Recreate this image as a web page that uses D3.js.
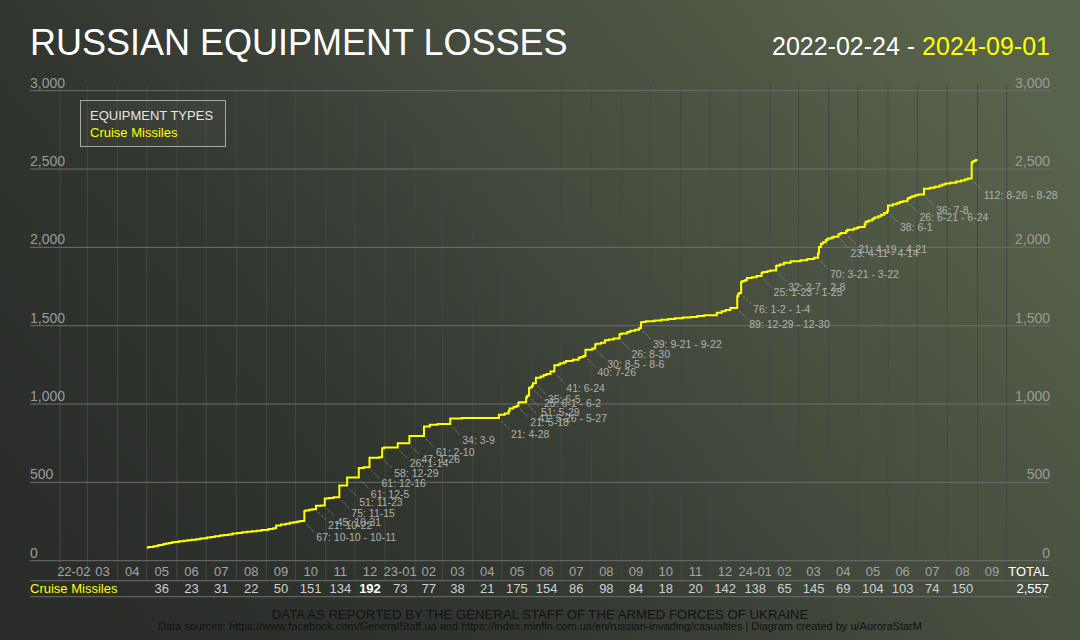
<!DOCTYPE html>
<html>
<head>
<meta charset="utf-8">
<title>Russian equipment losses — cruise missiles</title>
<script src="https://cdn.jsdelivr.net/npm/d3@7"></script>
<style>
  html, body { margin: 0; padding: 0; background: #2e322e; }
  svg { display: block; font-family: "Liberation Sans", Arial, sans-serif; }
</style>
</head>
<body>
<svg id="chart" width="1080" height="640"></svg>
<script>
/* Cumulative cruise missiles shot down, daily steps, with the big jumps labelled.
   Values; small steps between labelled jumps are estimates
   chosen so each month adds up to the monthly table. */
var START_DATE = "2022-05-01", START_VALUE = 84, END_DATE = "2024-09-01";

// daily increases [date, missiles]
var steps = [
  ["2022-05-03",4],["2022-05-08",5],["2022-05-12",4],["2022-05-14",3],["2022-05-18",6],["2022-05-21",4],["2022-05-24",3],["2022-05-27",4],["2022-05-30",3],
  ["2022-06-03",4],["2022-06-08",3],["2022-06-12",4],["2022-06-16",3],["2022-06-21",3],["2022-06-25",4],["2022-06-29",2],
  ["2022-07-02",5],["2022-07-06",4],["2022-07-10",4],["2022-07-15",5],["2022-07-19",3],["2022-07-24",4],["2022-07-28",6],
  ["2022-08-02",3],["2022-08-07",4],["2022-08-12",3],["2022-08-17",4],["2022-08-22",3],["2022-08-27",5],
  ["2022-09-03",6],["2022-09-08",5],["2022-09-11",18],["2022-09-16",6],["2022-09-21",5],["2022-09-25",6],["2022-09-29",4],
  ["2022-10-03",4],["2022-10-06",3],["2022-10-10",62],["2022-10-11",5],["2022-10-15",5],["2022-10-18",4],["2022-10-22",21],["2022-10-27",2],["2022-10-31",45],
  ["2022-11-04",4],["2022-11-09",4],["2022-11-15",75],["2022-11-23",51],
  ["2022-12-05",61],["2022-12-10",4],["2022-12-16",61],["2022-12-26",3],["2022-12-29",58],["2022-12-31",5],
  ["2023-01-14",26],["2023-01-26",47],
  ["2023-02-10",61],["2023-02-16",10],["2023-02-24",6],
  ["2023-03-09",34],["2023-03-21",4],
  ["2023-04-28",21],
  ["2023-05-04",8],["2023-05-08",16],["2023-05-09",15],["2023-05-13",10],["2023-05-16",6],["2023-05-18",21],["2023-05-19",4],["2023-05-26",30],["2023-05-27",11],["2023-05-29",51],["2023-05-31",3],
  ["2023-06-01",10],["2023-06-02",15],["2023-06-05",35],["2023-06-10",8],["2023-06-13",10],["2023-06-16",6],["2023-06-20",16],["2023-06-24",41],["2023-06-28",5],["2023-06-30",8],
  ["2023-07-04",6],["2023-07-06",8],["2023-07-13",8],["2023-07-19",12],["2023-07-21",5],["2023-07-24",7],["2023-07-26",40],
  ["2023-08-02",8],["2023-08-05",25],["2023-08-06",5],["2023-08-11",6],["2023-08-15",16],["2023-08-19",5],["2023-08-24",7],["2023-08-30",26],
  ["2023-09-01",6],["2023-09-07",8],["2023-09-10",9],["2023-09-15",6],["2023-09-19",10],["2023-09-21",36],["2023-09-22",3],["2023-09-26",6],
  ["2023-10-05",4],["2023-10-12",5],["2023-10-19",4],["2023-10-26",5],
  ["2023-11-03",5],["2023-11-11",4],["2023-11-18",6],["2023-11-25",5],
  ["2023-12-08",16],["2023-12-13",10],["2023-12-17",8],["2023-12-22",12],["2023-12-29",75],["2023-12-30",14],["2023-12-31",7],
  ["2024-01-02",70],["2024-01-03",4],["2024-01-04",2],["2024-01-06",5],["2024-01-08",14],["2024-01-13",6],["2024-01-18",7],["2024-01-23",20],["2024-01-24",3],["2024-01-25",2],["2024-01-29",5],
  ["2024-02-01",5],["2024-02-07",29],["2024-02-08",3],["2024-02-11",6],["2024-02-15",12],["2024-02-22",10],
  ["2024-03-03",6],["2024-03-10",7],["2024-03-17",8],["2024-03-21",30],["2024-03-22",40],["2024-03-24",20],["2024-03-26",10],["2024-03-29",14],["2024-03-31",10],
  ["2024-04-04",6],["2024-04-06",5],["2024-04-11",16],["2024-04-13",4],["2024-04-14",3],["2024-04-19",14],["2024-04-20",4],["2024-04-21",3],["2024-04-27",9],["2024-04-30",5],
  ["2024-05-02",4],["2024-05-08",18],["2024-05-09",16],["2024-05-12",8],["2024-05-16",10],["2024-05-18",8],["2024-05-22",8],["2024-05-25",10],["2024-05-28",12],["2024-05-31",10],
  ["2024-06-01",38],["2024-06-06",8],["2024-06-10",6],["2024-06-13",8],["2024-06-16",5],["2024-06-21",15],["2024-06-22",5],["2024-06-24",6],["2024-06-26",6],["2024-06-29",6],
  ["2024-07-02",5],["2024-07-08",36],["2024-07-14",6],["2024-07-19",7],["2024-07-24",8],["2024-07-27",6],["2024-07-30",6],
  ["2024-08-04",6],["2024-08-10",8],["2024-08-15",6],["2024-08-19",6],["2024-08-22",6],["2024-08-26",102],["2024-08-27",6],["2024-08-28",4],["2024-08-30",6]
];

// labelled jumps [first day, last day or null, missiles]
var jumps = [
  ["2022-10-10","2022-10-11",67],["2022-10-22",null,21],["2022-10-31",null,45],["2022-11-15",null,75],["2022-11-23",null,51],
  ["2022-12-05",null,61],["2022-12-16",null,61],["2022-12-29",null,58],["2023-01-14",null,26],["2023-01-26",null,47],
  ["2023-02-10",null,61],["2023-03-09",null,34],["2023-04-28",null,21],["2023-05-18",null,21],["2023-05-26","2023-05-27",41],
  ["2023-05-29",null,51],["2023-06-01","2023-06-02",25],["2023-06-05",null,35],["2023-06-24",null,41],["2023-07-26",null,40],
  ["2023-08-05","2023-08-06",30],["2023-08-30",null,26],["2023-09-21","2023-09-22",39],["2023-12-29","2023-12-30",89],
  ["2024-01-02","2024-01-04",76],["2024-01-23","2024-01-25",25],["2024-02-07","2024-02-08",32],["2024-03-21","2024-03-22",70],
  ["2024-04-11","2024-04-14",23],["2024-04-19","2024-04-21",21],["2024-06-01",null,38],["2024-06-21","2024-06-24",26],
  ["2024-07-08",null,36],["2024-08-26","2024-08-28",112]
];

// bottom table: month columns from 2022-02 to 2024-09, totals per month (null = blank)
var tableMonths = ["2022-02","2022-03","2022-04","2022-05","2022-06","2022-07","2022-08","2022-09","2022-10","2022-11","2022-12",
  "2023-01","2023-02","2023-03","2023-04","2023-05","2023-06","2023-07","2023-08","2023-09","2023-10","2023-11","2023-12",
  "2024-01","2024-02","2024-03","2024-04","2024-05","2024-06","2024-07","2024-08","2024-09"];
var monthTotals = [null,null,null,36,23,31,22,50,151,134,192,73,77,38,21,175,154,86,98,84,18,20,142,138,65,145,69,104,103,74,150,null];
var TOTAL = 2557;
var yTicks = [0, 500, 1000, 1500, 2000, 2500, 3000];

(function () {
  "use strict";
  var W = 1080, H = 640, L = 30, R = 1050, TOP = 90.7, BASE = 560.7, ROW1 = 580.7, ROW2 = 596.7;
  var parse = d3.utcParse("%Y-%m-%d"), parseM = d3.utcParse("%Y-%m"), md = d3.utcFormat("%-m-%-d");
  var YELLOW = "#ffff00";

  var x = d3.scaleUtc().domain([parse("2022-01-01"), parse("2024-10-01")]).range([L, 1006.7]);
  var y = d3.scaleLinear().domain([0, 3000]).range([BASE, TOP]);

  // cumulative series
  var pts = [[parse(START_DATE), START_VALUE]], run = START_VALUE;
  steps.forEach(function (s) { run += s[1]; pts.push([parse(s[0]), run]); });
  pts.push([parse(END_DATE), run]);
  function before(d) {
    var v = START_VALUE;
    steps.forEach(function (s) { if (parse(s[0]) < d) v += s[1]; });
    return v;
  }

  var svg = d3.select("#chart").attr("viewBox", "0 0 " + W + " " + H);
  var defs = svg.append("defs");
  var g = defs.append("linearGradient").attr("id", "bg").attr("x1", 0).attr("y1", 0.75).attr("x2", 1).attr("y2", 0.25);
  [[0, "#2a2d2a"], [0.3, "#31362f"], [0.6, "#444b3e"], [1, "#58634b"]].forEach(function (s) {
    g.append("stop").attr("offset", s[0]).attr("stop-color", s[1]);
  });
  svg.append("rect").attr("width", W).attr("height", H).attr("fill", "url(#bg)");

  // title
  svg.append("text").attr("x", L).attr("y", 55).attr("fill", "#fff").attr("font-size", 36).text("RUSSIAN EQUIPMENT LOSSES");
  var dt = svg.append("text").attr("x", R).attr("y", 55).attr("text-anchor", "end").attr("font-size", 25);
  dt.append("tspan").attr("fill", "#fff").text("2022-02-24 - ");
  dt.append("tspan").attr("fill", YELLOW).text("2024-09-01");

  // vertical month lines
  var months = d3.utcMonths(parse("2022-02-01"), parse("2024-10-02"));
  svg.append("g").selectAll("line").data(months).enter().append("line")
    .attr("x1", function (d) { return x(d); }).attr("x2", function (d) { return x(d); })
    .attr("y1", 85).attr("y2", ROW1).attr("stroke", "#444743").attr("stroke-width", 1);

  // horizontal grid + labels
  var gy = svg.append("g");
  gy.selectAll("line").data(yTicks).enter().append("line")
    .attr("x1", L).attr("x2", R).attr("y1", function (d) { return y(d); }).attr("y2", function (d) { return y(d); })
    .attr("stroke", "#6d6f6a").attr("stroke-width", 1);
  [[L, "start"], [R, "end"]].forEach(function (side) {
    gy.append("g").selectAll("text").data(yTicks).enter().append("text")
      .attr("x", side[0]).attr("y", function (d) { return y(d) - 3; }).attr("text-anchor", side[1])
      .attr("font-size", 14).attr("fill", "#9a9c98").text(d3.format(","));
  });
  [ROW1, ROW2].forEach(function (yy) {
    svg.append("line").attr("x1", L).attr("x2", R).attr("y1", yy).attr("y2", yy).attr("stroke", "#6d6f6a");
  });

  // legend
  svg.append("rect").attr("x", 80.5).attr("y", 100.5).attr("width", 145).attr("height", 46)
    .attr("fill", "rgba(255,255,255,0.03)").attr("stroke", "#a5a7a2");
  svg.append("text").attr("x", 90).attr("y", 119.5).attr("font-size", 13).attr("fill", "#e6e6e6").text("EQUIPMENT TYPES");
  svg.append("text").attr("x", 90).attr("y", 136.5).attr("font-size", 13).attr("fill", YELLOW).text("Cruise Missiles");

  // jump labels with leaders
  var ga = svg.append("g");
  jumps.forEach(function (j) {
    var d0 = parse(j[0]), ax = x(d0), ay = y(before(d0));
    ga.append("line").attr("x1", ax + 2).attr("y1", ay + 3).attr("x2", ax + 10).attr("y2", ay + 11)
      .attr("stroke", "#a8aaa6").attr("stroke-width", 0.8).attr("stroke-dasharray", "1,1");
    ga.append("text").attr("x", ax + 12).attr("y", ay + 20).attr("font-size", 10.5).attr("fill", "#b0b2ae")
      .text(j[2] + ": " + md(d0) + (j[1] ? " - " + md(parse(j[1])) : ""));
  });

  // the line
  var line = d3.line().x(function (d) { return x(d[0]); }).y(function (d) { return y(d[1]); }).curve(d3.curveStepAfter);
  svg.append("path").datum(pts).attr("d", line).attr("fill", "none").attr("stroke", YELLOW)
    .attr("stroke-width", 2).attr("stroke-linejoin", "miter");

  // month labels and table
  var mid = function (m) { var d = parseM(m); return (x(d) + x(d3.utcMonth.offset(d, 1))) / 2; };
  var mlab = function (m, i) { var d = parseM(m); return (i === 0 || d.getUTCMonth() === 0) ? d3.utcFormat("%y-%m")(d) : d3.utcFormat("%m")(d); };
  var gm = svg.append("g").attr("font-size", 13).attr("text-anchor", "middle");
  gm.selectAll("text.m").data(tableMonths).enter().append("text").attr("class", "m")
    .attr("x", mid).attr("y", 575.5).attr("fill", "#a3a5a1").text(mlab);
  var maxV = d3.max(monthTotals);
  gm.selectAll("text.v").data(tableMonths).enter().append("text").attr("class", "v")
    .attr("x", mid).attr("y", 592.5)
    .attr("fill", function (m, i) { return monthTotals[i] === maxV ? "#fff" : "#cfd1cd"; })
    .attr("font-weight", function (m, i) { return monthTotals[i] === maxV ? "bold" : null; })
    .text(function (m, i) { return monthTotals[i] == null ? "" : monthTotals[i]; });
  svg.append("text").attr("x", R - 1).attr("y", 575.5).attr("text-anchor", "end").attr("font-size", 13).attr("fill", "#fff").text("TOTAL");
  svg.append("text").attr("x", R - 1).attr("y", 592.5).attr("text-anchor", "end").attr("font-size", 13).attr("fill", "#fff").text(d3.format(",")(TOTAL));
  svg.append("text").attr("x", L).attr("y", 592.5).attr("font-size", 13).attr("fill", YELLOW).text("Cruise Missiles");

  // footer
  svg.append("text").attr("x", 540).attr("y", 619).attr("text-anchor", "middle").attr("font-size", 13.2).attr("fill", "#111")
    .text("DATA AS REPORTED BY THE GENERAL STAFF OF THE ARMED FORCES OF UKRAINE");
  svg.append("text").attr("x", 540).attr("y", 630).attr("text-anchor", "middle").attr("font-size", 11).attr("fill", "#111")
    .text("Data sources: https://www.facebook.com/GeneralStaff.ua and https://index.minfin.com.ua/en/russian-invading/casualties | Diagram created by u/AuroraStarM");
})();
</script>
</body>
</html>
